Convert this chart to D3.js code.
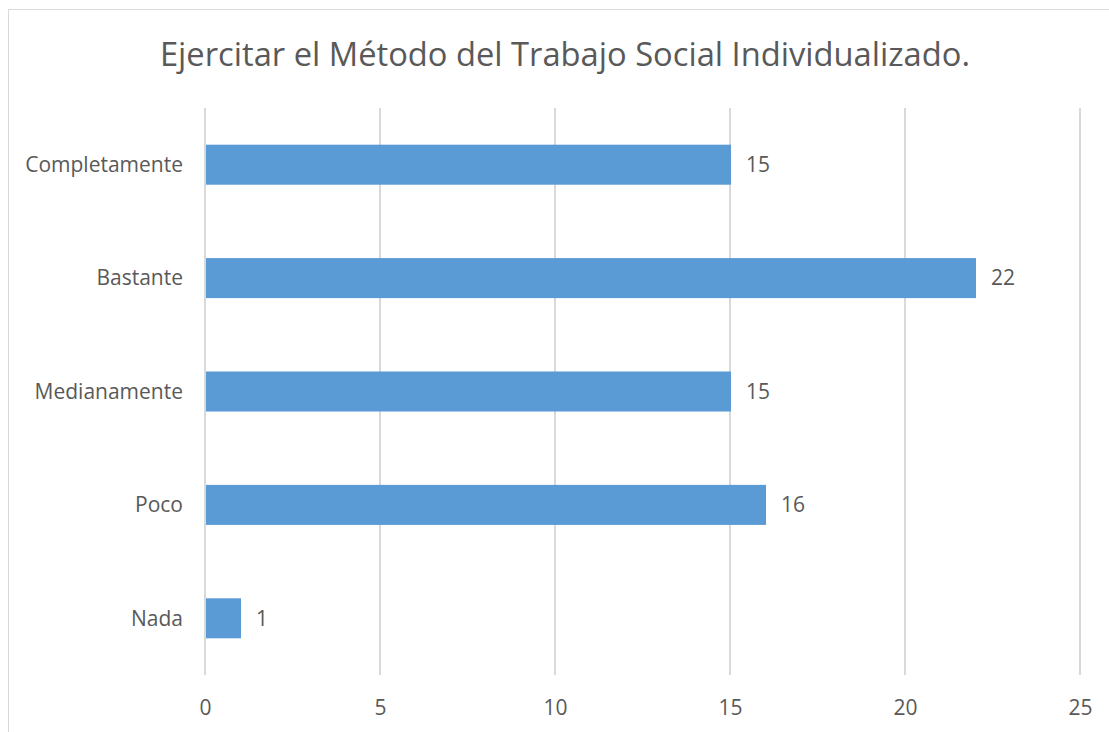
<!DOCTYPE html>
<html>
<head>
<meta charset="utf-8">
<script src="https://cdn.jsdelivr.net/npm/d3@7"></script>
<style>
  body { margin: 0; background: #fff; }
  svg text { font-family: "Open Sans", "Noto Sans", sans-serif; fill: #595959; }
</style>
</head>
<body>
<svg id="chart" width="1109" height="732"></svg>
<script>
// data
var categories = ["Completamente", "Bastante", "Medianamente", "Poco", "Nada"];
var values = [15, 22, 15, 16, 1];
var xTicks = [0, 5, 10, 15, 20, 25];
var title = "Ejercitar el Método del Trabajo Social Individualizado.";

var svg = d3.select("#chart");

// chart frame
svg.append("rect")
    .attr("x", 8.5)
    .attr("y", 9.5)
    .attr("width", 1120)
    .attr("height", 740)
    .attr("fill", "#fff")
    .attr("stroke", "#d9d9d9")
    .attr("stroke-width", 1);

var margin = { top: 108, left: 205, right: 29, bottom: 57 };
var width = 1109, height = 732;

var x = d3.scaleLinear()
    .domain([0, 25])
    .range([margin.left, width - margin.right]);

var y = d3.scaleBand()
    .domain(categories)
    .range([margin.top, height - margin.bottom])
    .paddingInner(0.647)
    .paddingOuter(0.3235);

// gridlines
svg.append("g")
    .selectAll("line")
    .data(xTicks)
    .enter()
    .append("line")
    .attr("x1", function(d) { return x(d); })
    .attr("x2", function(d) { return x(d); })
    .attr("y1", margin.top)
    .attr("y2", height - margin.bottom)
    .attr("stroke", "#d9d9d9")
    .attr("stroke-width", 2);

// x axis labels
var xAxis = d3.axisBottom(x)
    .tickValues(xTicks)
    .tickSize(0)
    .tickPadding(0);
var gx = svg.append("g")
    .attr("transform", "translate(0," + (height - margin.bottom) + ")")
    .call(xAxis);
gx.select(".domain").remove();
gx.selectAll("text")
    .attr("dy", null)
    .attr("y", 40)
    .attr("font-size", 21)
    .style("font-family", null);

// y axis labels
var yAxis = d3.axisLeft(y)
    .tickSize(0)
    .tickPadding(22);
var gy = svg.append("g")
    .attr("transform", "translate(" + margin.left + ",0)")
    .call(yAxis);
gy.select(".domain").remove();
gy.selectAll("text")
    .attr("dy", "0.35em")
    .attr("font-size", 21)
    .style("font-family", null);

// bars
svg.append("g")
    .selectAll("rect")
    .data(values)
    .enter()
    .append("rect")
    .attr("x", x(0) + 1)
    .attr("y", function(d, i) { return y(categories[i]); })
    .attr("width", function(d) { return x(d) - x(0); })
    .attr("height", y.bandwidth())
    .attr("fill", "#5b9bd5");

// value labels
svg.append("g")
    .selectAll("text")
    .data(values)
    .enter()
    .append("text")
    .attr("x", function(d) { return x(d) + 16; })
    .attr("y", function(d, i) { return y(categories[i]) + y.bandwidth() / 2; })
    .attr("dy", "0.35em")
    .attr("font-size", 21)
    .text(function(d) { return d; });

// title
svg.append("text")
    .attr("x", 565)
    .attr("y", 66)
    .attr("text-anchor", "middle")
    .attr("font-size", 32.7)
    .text(title);
</script>
</body>
</html>
